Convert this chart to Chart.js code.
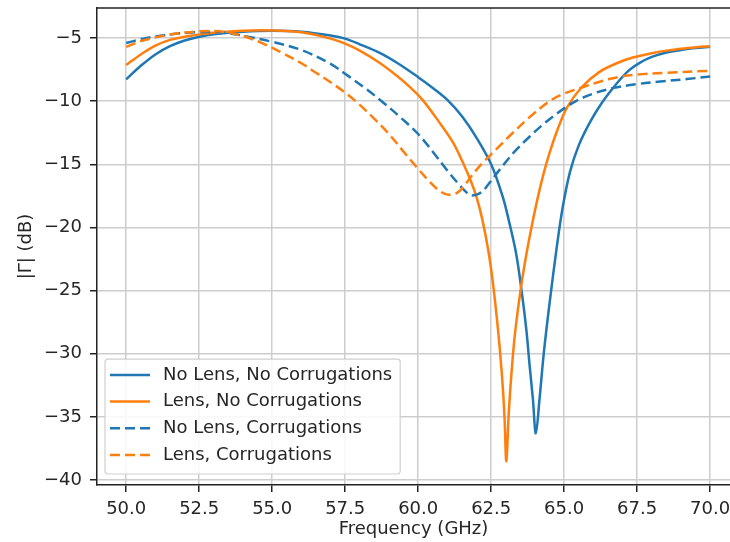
<!DOCTYPE html>
<html>
<head>
<meta charset="utf-8">
<script src="https://cdn.jsdelivr.net/npm/chart.js@4/dist/chart.umd.min.js"></script>
<style>
  html, body { margin: 0; padding: 0; background: #fff; }
  canvas { display: block; }
</style>
</head>
<body>
<canvas id="chart" width="730" height="542"></canvas>
<script>
// ---- data ----
const seriesLabels = ['No Lens, No Corrugations', 'Lens, No Corrugations', 'No Lens, Corrugations', 'Lens, Corrugations'];

const freqNoLensNoCorr = [50, 50.5, 51, 51.5, 52, 52.5, 53, 54, 55, 56, 57, 57.5, 58, 58.7, 59.3, 60, 60.5, 61, 61.5, 62, 62.5, 62.9, 63.12, 63.35, 63.53, 63.7, 63.82, 63.93, 64.03, 64.16, 64.3, 64.5, 64.75, 64.95, 65.2, 65.5, 65.9, 66.3, 66.8, 67.2, 67.6, 68, 68.5, 69, 69.5, 70];
const dbNoLensNoCorr = [-8.27, -7.2, -6.3, -5.65, -5.2, -4.9, -4.7, -4.5, -4.42, -4.5, -4.8, -5.05, -5.5, -6.2, -7.0, -8.1, -8.95, -9.9, -11.2, -12.9, -15.0, -17.6, -19.6, -22.0, -24.8, -28.0, -31.0, -33.6, -36.3, -33.5, -30.0, -26.0, -21.5, -18.4, -15.6, -13.5, -11.6, -10.1, -8.6, -7.6, -6.95, -6.5, -6.15, -5.95, -5.8, -5.7];

const freqLensNoCorr = [50, 50.5, 51, 51.5, 52, 52.5, 53, 54, 55, 56, 57, 57.5, 58, 58.7, 59.3, 59.7, 60.15, 60.7, 61.2, 61.5, 61.8, 62.0, 62.2, 62.4, 62.55, 62.7, 62.81, 62.9, 62.96, 63.02, 63.1, 63.2, 63.32, 63.53, 63.7, 63.88, 64.1, 64.3, 64.5, 64.75, 65.1, 65.6, 66.2, 66.8, 67.35, 68, 68.5, 69, 69.6, 70];
const dbLensNoCorr = [-7.14, -6.3, -5.6, -5.15, -4.9, -4.72, -4.58, -4.42, -4.4, -4.55, -5.05, -5.45, -6.0, -7.0, -8.05, -8.85, -9.9, -11.6, -13.3, -14.7, -16.3, -17.6, -19.4, -21.8, -24.2, -27.3, -30.0, -32.7, -35.2, -38.5, -34.8, -31.4, -28.3, -24.6, -22.2, -20.0, -17.6, -15.7, -14.1, -12.4, -10.5, -8.9, -7.7, -7.0, -6.55, -6.2, -6.0, -5.85, -5.72, -5.65];

const freqNoLensCorr = [50, 50.5, 51, 51.5, 52, 52.5, 53, 53.5, 54, 55, 56, 57, 57.6, 58.2, 58.8, 59.4, 60, 60.5, 61, 61.4, 61.6, 61.8, 62.0, 62.2, 62.4, 62.8, 63.3, 63.82, 64.3, 64.8, 65.4, 66, 66.7, 67.5, 68.3, 69.2, 70];
const dbNoLensCorr = [-5.4, -5.1, -4.88, -4.72, -4.6, -4.53, -4.53, -4.62, -4.82, -5.3, -5.95, -7.05, -8.0, -9.0, -10.1, -11.3, -12.6, -14.0, -15.5, -16.6, -17.1, -17.45, -17.4, -17.15, -16.6, -15.4, -14.0, -12.8, -11.8, -10.9, -10.0, -9.4, -8.95, -8.65, -8.45, -8.25, -8.05];

const freqLensCorr = [50, 50.5, 51, 51.5, 52, 52.5, 53, 53.5, 54, 54.6, 55.26, 56, 56.5, 57, 57.54, 58, 58.5, 59, 59.5, 59.94, 60.4, 60.7, 61.0, 61.3, 61.55, 61.8, 62.2, 62.68, 63.2, 63.8, 64.5, 65.0, 65.63, 66.3, 66.83, 67.5, 68.5, 70];
const dbLensCorr = [-5.7, -5.25, -4.95, -4.72, -4.57, -4.47, -4.45, -4.58, -4.85, -5.35, -6.08, -7.0, -7.75, -8.5, -9.4, -10.3, -11.4, -12.6, -14.0, -15.2, -16.4, -17.05, -17.4, -17.3, -16.8, -16.0, -14.9, -13.8, -12.6, -11.3, -10.0, -9.4, -8.9, -8.4, -8.1, -7.9, -7.75, -7.6];

const xTicks = [50, 52.5, 55, 57.5, 60, 62.5, 65, 67.5, 70];
const yTicks = [-5, -10, -15, -20, -25, -30, -35, -40];

// ---- styling ----
const blue = '#1f77b4';
const orange = '#ff7f0e';
const textColor = '#262626';
const font = { family: '"DejaVu Sans", sans-serif', size: 18 };
const dash = [10, 5];

const pts = (fs, vs) => fs.map((f, i) => ({ x: f, y: vs[i] }));

function line(label, data, color, dashed, order) {
    return {
        label: label,
        data: data,
        borderColor: color,
        backgroundColor: color,
        borderWidth: 2.5,
        borderDash: dashed ? dash : [],
        pointRadius: 0,
        tension: 0.35,
        fill: false,
        order: order
    };
}

// legend drawn inside the plot (lower left), plus the top spine
const insideLegend = {
    id: 'insideLegend',
    afterDraw(chart) {
        const { ctx, chartArea: ca } = chart;
        ctx.save();
        ctx.strokeStyle = '#222';
        ctx.lineWidth = 1.5;
        ctx.beginPath();
        ctx.moveTo(ca.left, ca.top);
        ctx.lineTo(ca.right, ca.top);
        ctx.stroke();

        ctx.font = '18px "DejaVu Sans", sans-serif';
        const sets = chart.data.datasets;
        const rowH = 26.7;
        const textW = Math.max(...sets.map(d => ctx.measureText(d.label).width));
        const x0 = ca.left + 8;
        const y1 = ca.bottom - 11;
        const h = rowH * sets.length + 8;
        const w = 58 + textW + 8;
        const y0 = y1 - h;

        ctx.beginPath();
        ctx.roundRect(x0, y0, w, h, 3);
        ctx.fillStyle = 'rgba(255,255,255,0.85)';
        ctx.fill();
        ctx.strokeStyle = '#d0d0d0';
        ctx.lineWidth = 1.2;
        ctx.stroke();

        sets.forEach((d, i) => {
            const y = y0 + 15.7 + i * rowH;
            ctx.strokeStyle = d.borderColor;
            ctx.lineWidth = 2.5;
            ctx.setLineDash(d.borderDash);
            ctx.beginPath();
            ctx.moveTo(x0 + 5, y);
            ctx.lineTo(x0 + 45, y);
            ctx.stroke();
            ctx.setLineDash([]);
            ctx.fillStyle = textColor;
            ctx.textBaseline = 'middle';
            ctx.textAlign = 'left';
            ctx.fillText(d.label, x0 + 58, y);
        });
        ctx.restore();
    }
};

new Chart(document.getElementById('chart'), {
    type: 'line',
    data: {
        datasets: [
            line(seriesLabels[0], pts(freqNoLensNoCorr, dbNoLensNoCorr), blue, false, 4),
            line(seriesLabels[1], pts(freqLensNoCorr, dbLensNoCorr), orange, false, 3),
            line(seriesLabels[2], pts(freqNoLensCorr, dbNoLensCorr), blue, true, 2),
            line(seriesLabels[3], pts(freqLensCorr, dbLensCorr), orange, true, 1)
        ]
    },
    options: {
        responsive: false,
        animation: false,
        layout: { padding: { top: 8, left: 0, right: 0, bottom: 0 } },
        plugins: {
            legend: { display: false },
            tooltip: { enabled: false }
        },
        scales: {
            x: {
                type: 'linear',
                min: 49,
                max: 70.68,
                afterBuildTicks: s => { s.ticks = xTicks.map(v => ({ value: v })); },
                afterFit: s => { s.height = 57; s.paddingLeft = 0; s.paddingRight = 0; },
                ticks: {
                    callback: v => v.toFixed(1),
                    font: font,
                    color: textColor,
                    padding: 7,
                    maxRotation: 0,
                    autoSkip: false
                },
                grid: { color: '#cdcdcd', lineWidth: 1.5, tickLength: 7, tickColor: '#222', tickWidth: 1.5 },
                border: { color: '#222', width: 1.5 },
                title: { display: true, text: 'Frequency (GHz)', font: font, color: textColor, padding: { top: 0, bottom: 2 } }
            },
            y: {
                type: 'linear',
                min: -40.39,
                max: -2.625,
                afterBuildTicks: s => { s.ticks = yTicks.map(v => ({ value: v })); },
                afterFit: s => { s.width = 97; s.paddingTop = 0; s.paddingBottom = 0; },
                ticks: {
                    callback: v => (v < 0 ? '\u2212' + Math.abs(v) : String(v)),
                    font: font,
                    color: textColor,
                    padding: 8,
                    autoSkip: false
                },
                grid: { color: '#cdcdcd', lineWidth: 1.5, tickLength: 7, tickColor: '#222', tickWidth: 1.5 },
                border: { color: '#222', width: 1.5 },
                title: { display: true, text: '|\u0393| (dB)', font: font, color: textColor, padding: { top: 16, bottom: 0 } }
            }
        }
    },
    plugins: [insideLegend]
});
</script>
</body>
</html>
